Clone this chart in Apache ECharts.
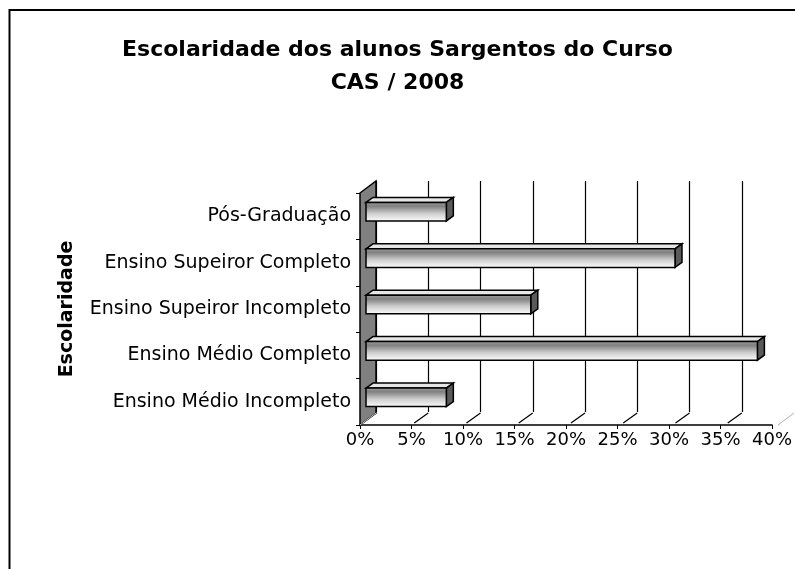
<!DOCTYPE html>
<html>
<head>
<meta charset="utf-8">
<script src="https://cdn.jsdelivr.net/npm/echarts@6/dist/echarts.min.js"></script>
<style>
  html, body { margin: 0; padding: 0; background: #fff; }
  #main { width: 795px; height: 569px; }
</style>
</head>
<body>
<div id="main"></div>
<script>
// data, bottom to top as drawn on the y axis
var categories = ['Ensino Médio Incompleto', 'Ensino Médio Completo', 'Ensino Supeiror Incompleto', 'Ensino Supeiror Completo', 'Pós-Graduação'];
var percents = [7.8, 38, 16, 30, 7.8];
var xTicks = [0, 5, 10, 15, 20, 25, 30, 35, 40];

// 3D box layout (front plane + back plane)
var FRONT = { left: 360, top: 193, width: 418, height: 232 };
var DX = 16, DY = -12;           // depth offset of the back wall
var BAR_DX = 6, BAR_DY = -4.5;   // where the bar's front face sits in depth
var SIDE_DX = 7, SIDE_DY = -5;   // bar thickness in depth
var FONT = 'DejaVu Sans, sans-serif';

var chart = echarts.init(document.getElementById('main'));

function renderBar(params, api) {
    var start = api.coord([0, api.value(1)]);
    var end = api.coord([api.value(0), api.value(1)]);
    var h = api.size([0, 1])[1] * 0.4;
    var x0 = start[0] + BAR_DX, x1 = end[0] + BAR_DX;
    var yc = start[1] + BAR_DY;
    var y0 = yc - h / 2, y1 = yc + h / 2;
    var stroke = { stroke: '#000', lineWidth: 1.5 };
    return {
        type: 'group',
        children: [
            {
                type: 'polygon',
                shape: { points: [[x0, y0], [x0 + SIDE_DX, y0 + SIDE_DY], [x1 + SIDE_DX, y0 + SIDE_DY], [x1, y0]] },
                style: Object.assign({ fill: '#e6e6e6' }, stroke)
            },
            {
                type: 'polygon',
                shape: { points: [[x1, y0], [x1 + SIDE_DX, y0 + SIDE_DY], [x1 + SIDE_DX, y1 + SIDE_DY], [x1, y1]] },
                style: Object.assign({ fill: '#5a5a5a' }, stroke)
            },
            {
                type: 'rect',
                shape: { x: x0, y: y0, width: x1 - x0, height: h },
                style: Object.assign({
                    fill: new echarts.graphic.LinearGradient(0, 0, 0, 1, [
                        { offset: 0, color: '#a0a0a0' },
                        { offset: 0.22, color: '#808080' },
                        { offset: 0.6, color: '#cfcfcf' },
                        { offset: 1, color: '#ffffff' }
                    ])
                }, stroke)
            }
        ]
    };
}

// wall, floor and floor gridlines
var fl = FRONT.left, ft = FRONT.top, fb = FRONT.top + FRONT.height, fr = FRONT.left + FRONT.width;
var pxPerUnit = FRONT.width / xTicks[xTicks.length - 1];
var decor = [
    {
        type: 'polygon', z: 1,
        shape: { points: [[fl, ft], [fl + DX, ft + DY], [fl + DX, fb + DY], [fl, fb]] },
        style: { fill: '#808080', stroke: '#000', lineWidth: 1.5 }
    },
    {
        type: 'line', z: 1,
        shape: { x1: fr, y1: fb, x2: fr + DX, y2: fb + DY },
        style: { stroke: '#b0b0b0', lineWidth: 1 }
    },
    {
        type: 'line', z: 1,
        shape: { x1: fl, y1: fb, x2: fl + DX, y2: fb + DY },
        style: { stroke: '#c8c8c8', lineWidth: 1 }
    },
    {
        type: 'rect', z: 0,
        shape: { x: 9.5, y: 10, width: 800, height: 600 },
        style: { fill: 'none', stroke: '#000', lineWidth: 2 }
    }
];
xTicks.slice(1, -1).forEach(function (t) {
    var x = fl + t * pxPerUnit;
    decor.push({
        type: 'line', z: 1,
        shape: { x1: x + 2, y1: fb - 2, x2: x + DX, y2: fb + DY },
        style: { stroke: '#000', lineWidth: 1.2 }
    });
});

var backGridColors = xTicks.map(function (t, i) {
    return i === xTicks.length - 1 ? 'rgba(0,0,0,0)' : '#000';
});

chart.setOption({
    animation: false,
    backgroundColor: '#fff',
    title: {
        text: 'Escolaridade dos alunos Sargentos do Curso\nCAS / 2008',
        left: 'center',
        top: 29,
        textStyle: { fontFamily: FONT, fontSize: 22, fontWeight: 'bold', color: '#000', lineHeight: 33 }
    },
    grid: [
        { left: fl + DX, top: ft + DY, width: FRONT.width, height: FRONT.height - 1 },
        { left: fl, top: ft, width: FRONT.width, height: FRONT.height }
    ],
    xAxis: [
        {
            gridIndex: 0, type: 'value', min: 0, max: 40, interval: 5,
            axisLine: { show: false }, axisTick: { show: false }, axisLabel: { show: false },
            splitLine: { show: true, lineStyle: { color: backGridColors, width: 1.2 } }
        },
        {
            gridIndex: 1, type: 'value', min: 0, max: 40, interval: 5,
            axisLine: { show: true, lineStyle: { color: '#000', width: 1.5 } },
            axisTick: { show: true, length: 4, lineStyle: { color: '#000' } },
            axisLabel: { formatter: '{value}%', fontFamily: FONT, fontSize: 18, color: '#000', margin: 6 },
            splitLine: { show: false }
        }
    ],
    yAxis: [
        {
            gridIndex: 0, type: 'value', show: false
        },
        {
            gridIndex: 1, type: 'category', data: categories,
            name: 'Escolaridade', nameLocation: 'middle', nameRotate: 90, nameGap: 283,
            nameTextStyle: { fontFamily: FONT, fontSize: 19, fontWeight: 'bold', color: '#000' },
            axisLine: { show: false },
            axisTick: { show: true, length: 4, lineStyle: { color: '#000' } },
            axisLabel: { fontFamily: FONT, fontSize: 19, color: '#000', margin: 9, padding: [0, 0, 8, 0] },
            splitLine: { show: false }
        }
    ],
    series: [{
        type: 'custom',
        xAxisIndex: 1,
        yAxisIndex: 1,
        z: 3,
        renderItem: renderBar,
        encode: { x: 0, y: 1 },
        data: percents.map(function (v, i) { return [v, i]; })
    }],
    graphic: decor
});
</script>
</body>
</html>
